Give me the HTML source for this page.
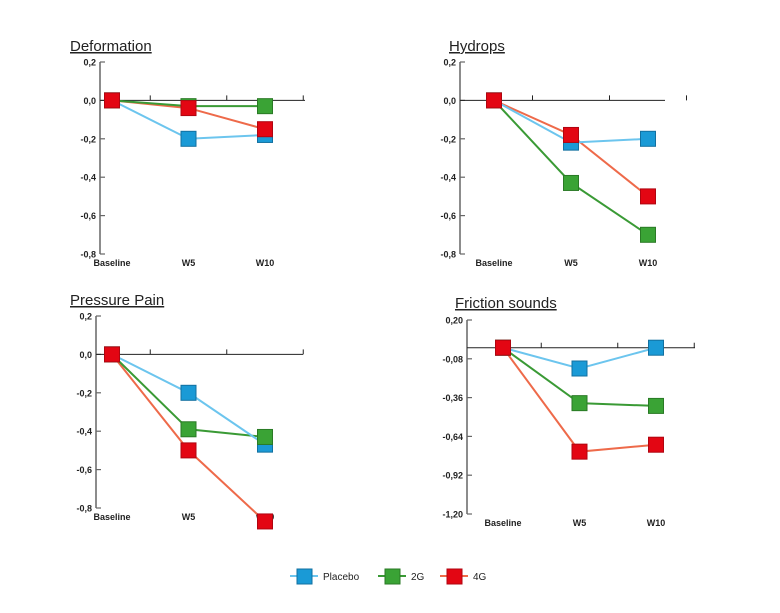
<!DOCTYPE html>
<html><head><meta charset="utf-8"><style>
body{margin:0;background:#fff;width:780px;height:608px;overflow:hidden;font-family:"Liberation Sans",sans-serif}
</style></head><body>
<svg id="c" width="780" height="608" xmlns="http://www.w3.org/2000/svg"></svg>
<script>
const categories = ["Baseline","W5","W10"];
const seriesNames = ["Placebo","2G","4G"];
const deformation = [[0,-0.20,-0.18],[0,-0.03,-0.03],[0,-0.04,-0.15]];
const hydrops = [[0,-0.22,-0.20],[0,-0.43,-0.70],[0,-0.18,-0.50]];
const pressurePain = [[0,-0.20,-0.47],[0,-0.39,-0.43],[0,-0.50,-0.87]];
const frictionSounds = [[0,-0.15,0],[0,-0.40,-0.42],[0,-0.75,-0.70]];
const ticksA = [0.2,0,-0.2,-0.4,-0.6,-0.8];
const ticksLabelsA = ["0,2","0,0","-0,2","-0,4","-0,6","-0,8"];
const ticksB = [0.2,-0.08,-0.36,-0.64,-0.92,-1.2];
const ticksLabelsB = ["0,20","-0,08","-0,36","-0,64","-0,92","-1,20"];

const lineCol=["#6cc5ee","#3a9a35","#ee6a4a"];
const fillCol=["#1a9ad6","#3aa335","#e30613"];
const strokeCol=["#1270a0","#2a7a25","#b00510"];
const NS="http://www.w3.org/2000/svg";
const svg=document.getElementById('c');
function mk(tag,attrs,parent){const e=document.createElementNS(NS,tag);for(const k in attrs)e.setAttribute(k,attrs[k]);(parent||svg).appendChild(e);return e;}

function panel(cfg){
  const g=mk('g',{});
  
  
  const yMax=cfg.ticks[0],yMin=cfg.ticks[cfg.ticks.length-1];
  const y=v=>cfg.yTop+(yMax-v)/(yMax-yMin)*(cfg.yBot-cfg.yTop);
  const x=i=>cfg.x0+i*cfg.step;
  const t=mk('text',{x:cfg.titleX,y:cfg.titleY,'font-size':15,fill:'#222','text-decoration':'underline'},g);
  t.textContent=cfg.title;
  
  
  mk('line',{x1:cfg.ax,x2:cfg.ax,y1:cfg.yTop,y2:cfg.yBot,stroke:'#666','stroke-width':1.5},g);
  cfg.ticks.forEach((v,i)=>{
    mk('line',{x1:cfg.ax,x2:cfg.ax+5,y1:y(v),y2:y(v),stroke:'#666','stroke-width':1.2},g);
    const tl=mk('text',{x:cfg.ax-4,y:y(v)+3.5,'font-size':9,'font-weight':'bold','text-anchor':'end',fill:'#222'},g);
    tl.textContent=cfg.tickLabels[i];
    
    
  });
  const y0=y(0);
  mk('line',{x1:cfg.ax,x2:cfg.xEnd,y1:y0,y2:y0,stroke:'#222','stroke-width':1},g);
  for(let i=1;i<=3;i++){const xx=x(0)+(i-0.5)*cfg.step;mk('line',{x1:xx,x2:xx,y1:y0,y2:y0-5,stroke:'#222','stroke-width':1},g);}
  categories.forEach((c,i)=>{
    const tl=mk('text',{x:x(i),y:cfg.yBot+12,'font-size':9,'font-weight':'bold','text-anchor':'middle',fill:'#222'},g);
    tl.textContent=c;
    
    
  });
  for(let s=2;s>=0;s--){
    const pts=cfg.data[s].map((v,i)=>x(i)+','+y(v)).join(' ');
    const pl=mk('polyline',{points:pts,fill:'none',stroke:lineCol[s],'stroke-width':2},g);
    
    
  }
  for(let s=0;s<3;s++){
    cfg.data[s].forEach((v,i)=>{
      const r=mk('rect',{x:x(i)-7.5,y:y(v)-7.5,width:15,height:15,fill:fillCol[s],stroke:strokeCol[s],'stroke-width':1},g);
      
      
    });
  }
}
panel({name:'deformation-panel',title:'Deformation',titleX:70,titleY:51,data:deformation,ticks:ticksA,tickLabels:ticksLabelsA,yTop:62,yBot:254,ax:100,x0:112,step:76.5,xEnd:305});
panel({name:'hydrops-panel',title:'Hydrops',titleX:449,titleY:51,data:hydrops,ticks:ticksA,tickLabels:ticksLabelsA,yTop:62,yBot:254,ax:460,x0:494,step:77,xEnd:665});
panel({name:'pressure-pain-panel',title:'Pressure Pain',titleX:70,titleY:305,data:pressurePain,ticks:ticksA,tickLabels:ticksLabelsA,yTop:316,yBot:508,ax:96,x0:112,step:76.5,xEnd:303});
panel({name:'friction-sounds-panel',title:'Friction sounds',titleX:455,titleY:308,data:frictionSounds,ticks:ticksB,tickLabels:ticksLabelsB,yTop:320,yBot:514,ax:467,x0:503,step:76.5,xEnd:695});

const leg=[[290,"Placebo"],[378,"2G"],[440,"4G"]];
leg.forEach((l,s)=>{
  const g=mk('g',{});
  
  
  mk('line',{x1:l[0],x2:l[0]+28,y1:576,y2:576,stroke:lineCol[s],'stroke-width':2},g);
  mk('rect',{x:l[0]+7,y:569,width:15,height:15,fill:fillCol[s],stroke:strokeCol[s]},g);
  const t=mk('text',{x:l[0]+33,y:580,'font-size':10,fill:'#222'},g);
  t.textContent=seriesNames[s];
});
</script>
</body></html>
